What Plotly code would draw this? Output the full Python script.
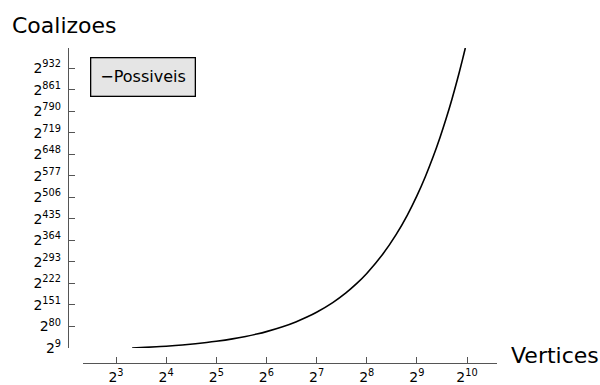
import plotly.graph_objects as go

# Data
vertices = [10, 12, 14, 16, 20, 24, 28, 32, 40, 48, 56, 64, 80, 96, 112, 128,
            160, 192, 224, 256, 320, 384, 448, 512, 576, 640, 704, 768, 832,
            896, 960, 1000]
expoentes = [9, 11, 13, 15, 19, 23, 27, 31, 39, 47, 55, 63, 79, 95, 111, 127,
             159, 191, 223, 255, 319, 383, 447, 511, 575, 639, 703, 767, 831,
             895, 959, 999]
y_tick_exps = [9, 80, 151, 222, 293, 364, 435, 506, 577, 648, 719, 790, 861, 932]
x_tick_exps = [3, 4, 5, 6, 7, 8, 9, 10]
series_name = "Possiveis"

FONT = "DejaVu Sans"
AXC = "#555555"

W, H = 600, 385
L, R, T, B = 68, 103, 48, 22
pw, ph = W - L - R, H - T - B

fig = go.Figure()
fig.add_trace(go.Scatter(
    x=vertices, y=expoentes, mode="lines", name=series_name,
    line=dict(color="black", width=1.6, shape="spline"),
    showlegend=False,
))

x_px0, x_px1 = 83, 497
y_px_min = 348  # pixel for y=9

fig.update_layout(
    width=W, height=H,
    margin=dict(l=L, r=R, t=T, b=B, autoexpand=False),
    paper_bgcolor="white", plot_bgcolor="white",
    font=dict(family=FONT, color="black"),
    title=dict(text="Coalizoes", font=dict(size=22, family=FONT, color="black"),
               xref="container", x=12 / W, xanchor="left",
               yref="container", y=1 - 25 / H, yanchor="middle",
               automargin=False),
    xaxis=dict(
        type="log", automargin=False,
        domain=[(x_px0 - L) / pw, 1],
        range=[0.7050, 3.1902],
        anchor="free", position=0,
        showline=True, linecolor=AXC, linewidth=1.3,
        showgrid=False, zeroline=False,
        ticks="inside", ticklen=6, tickcolor=AXC, tickwidth=1,
        tickvals=[2 ** e for e in x_tick_exps],
        ticktext=[f"2<sup>{e}</sup>" for e in x_tick_exps],
        tickfont=dict(size=14, family=FONT, color="black"),
        ticklabelstandoff=1,
    ),
    yaxis=dict(
        automargin=False,
        domain=[(T + ph - y_px_min) / ph, 1],
        range=[9, 999],
        anchor="free", position=0,
        showline=True, linecolor=AXC, linewidth=1.3,
        showgrid=False, zeroline=False,
        ticks="inside", ticklen=6, tickcolor=AXC, tickwidth=1,
        tickvals=y_tick_exps,
        ticktext=[f"2<sup>{e}</sup>" for e in y_tick_exps],
        tickfont=dict(size=14, family=FONT, color="black"),
        ticklabelstandoff=4,
    ),
    annotations=[
        dict(text="Vertices", xref="paper", yref="paper",
             x=(509 - L) / pw, y=(T + ph - 355) / ph,
             xanchor="left", yanchor="middle", showarrow=False,
             font=dict(size=22, family=FONT, color="black")),
        dict(text="\u2212" + series_name, xref="paper", yref="paper",
             x=(143 - L) / pw, y=(T + ph - 77) / ph,
             xanchor="center", yanchor="middle", showarrow=False,
             bgcolor="#e5e5e5", bordercolor="black", borderwidth=1.3,
             borderpad=9,
             font=dict(size=16, family=FONT, color="black")),
    ],
)

fig.write_html("out.html",
               config={"displayModeBar": False},
               post_script="document.body.style.margin='0';")
